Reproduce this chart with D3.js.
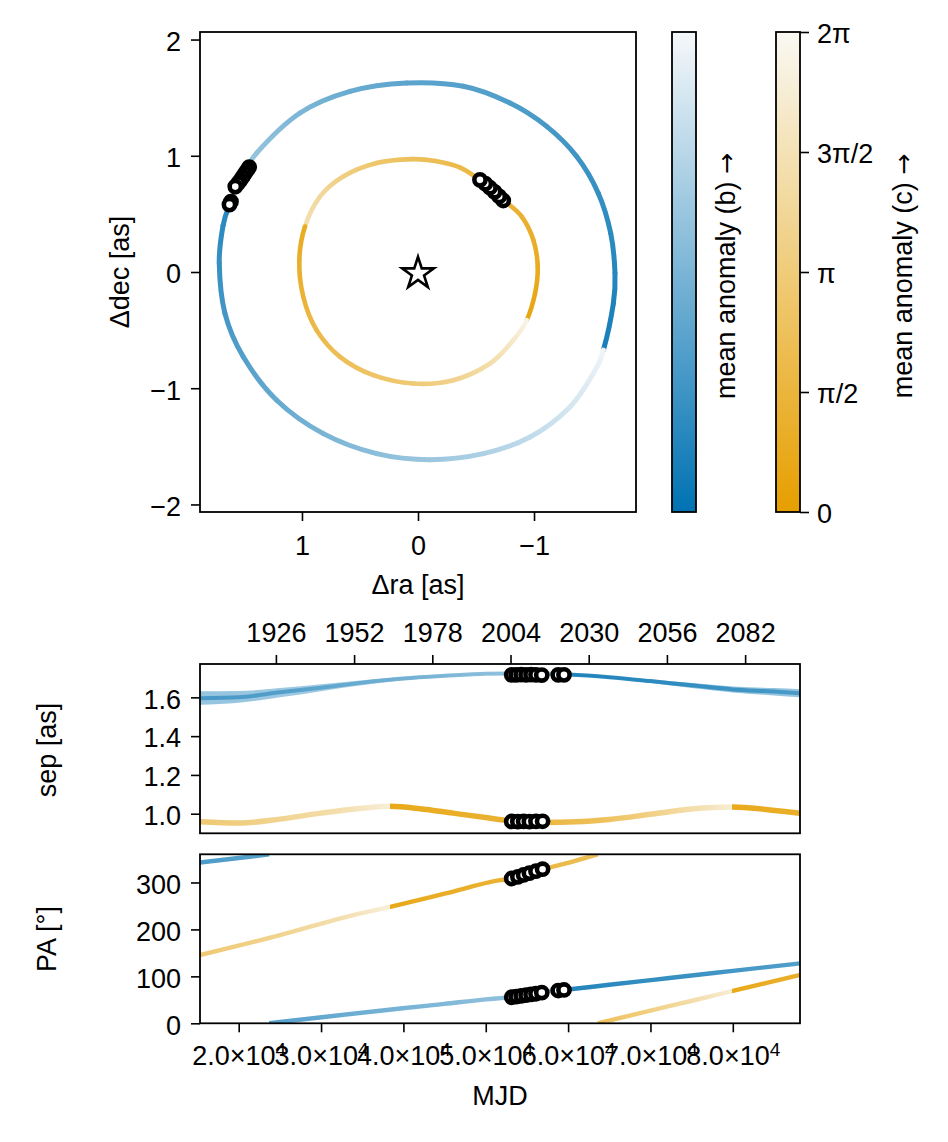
<!DOCTYPE html>
<html>
<head>
<meta charset="utf-8">
<script src="https://cdn.jsdelivr.net/npm/d3@7"></script>
<style>
html,body{margin:0;padding:0;background:#fff;}
svg text{font-family:"Liberation Sans",Helvetica,Arial,sans-serif;fill:#000;}
</style>
</head>
<body>
<svg id="fig" width="948" height="1142" xmlns="http://www.w3.org/2000/svg"></svg>
<script>
// ================= DATA =================
// Sky-plane orbit of planet b, listed along the direction of motion
const orbitB_ra   = [-1.598,-1.684,-1.698,-1.661,-1.554,-1.368,-1.109,-0.793,-0.391,0.097,0.586,1.017,1.391,1.520,1.620,1.680,1.713,1.664,1.506,1.218,0.816,0.356,-0.103,-0.563,-0.966,-1.310,-1.511];
const orbitB_dec  = [-0.672,-0.270,-0.011,0.333,0.678,0.994,1.253,1.454,1.598,1.626,1.554,1.368,1.023,0.800,0.590,0.400,0.075,-0.356,-0.730,-1.103,-1.391,-1.563,-1.615,-1.563,-1.420,-1.161,-0.873];
// mean anomaly (fraction of 2π) leaving / arriving at each point
const orbitB_mOut = [0.02,0.05,0.08,0.11,0.15,0.19,0.23,0.26,0.29,0.32,0.38,0.46,0.56,0.62,0.08,0.11,0.15,0.21,0.28,0.36,0.45,0.53,0.60,0.68,0.76,0.85,0.92];
const orbitB_mIn  = [0.97,0.05,0.08,0.11,0.15,0.19,0.23,0.26,0.29,0.32,0.38,0.46,0.56,0.62,0.66,0.11,0.15,0.21,0.28,0.36,0.45,0.53,0.60,0.68,0.76,0.85,0.92];

// Sky-plane orbit of planet c
const orbitC_ra   = [-0.937,-1.009,-1.032,-0.994,-0.894,-0.736,-0.534,-0.360,-0.150,0.054,0.356,0.644,0.845,0.974,1.023,0.989,0.874,0.672,0.385,0.040,-0.304,-0.621,-0.822];
const orbitC_dec  = [-0.414,-0.184,0.046,0.276,0.477,0.620,0.790,0.900,0.955,0.971,0.937,0.822,0.649,0.391,0.103,-0.213,-0.500,-0.730,-0.888,-0.960,-0.931,-0.787,-0.586];
const orbitC_mOut = [0.02,0.05,0.08,0.11,0.15,0.19,0.22,0.26,0.30,0.34,0.40,0.50,0.62,0.08,0.12,0.18,0.25,0.32,0.38,0.45,0.55,0.68,0.82];
const orbitC_mIn  = [0.95,0.05,0.08,0.11,0.15,0.19,0.22,0.26,0.30,0.34,0.40,0.50,0.62,0.70,0.12,0.18,0.25,0.32,0.38,0.45,0.55,0.68,0.82];

// Observations
const obsB_mjd = [53150,53700,54300,54900,55500,56100,56800,58800,59500];
const obsB_ra  = [1.455,1.470,1.490,1.510,1.530,1.550,1.575,1.612,1.625];
const obsB_dec = [0.903,0.880,0.850,0.820,0.790,0.765,0.735,0.605,0.580];
const obsB_sep = [1.716,1.716,1.717,1.716,1.717,1.716,1.715,1.716,1.716];
const obsB_pa  = [55.5,57,58.5,60,61.5,63,65.5,69.8,71];

const obsC_mjd = [53150,53900,54600,55300,56100,56900];
const obsC_ra  = [-0.735,-0.700,-0.660,-0.620,-0.580,-0.534];
const obsC_dec = [0.615,0.650,0.690,0.725,0.760,0.793];
const obsC_sep = [0.960,0.959,0.960,0.959,0.960,0.961];
const obsC_pa  = [308.5,312,316,320,324,328.3];

// Separation vs time
const sepB_mjd = [15300,20000,25000,30000,35000,40000,45000,50000,55000,60000,65000,70000,75000,80000,85000,88160];
const sepB     = [1.595,1.600,1.626,1.650,1.676,1.697,1.711,1.722,1.724,1.718,1.704,1.684,1.662,1.641,1.630,1.621];
const sepB_lo  = [1.562,1.572,1.600,1.632,1.662,1.688,1.705,1.718,1.721,1.714,1.698,1.674,1.648,1.625,1.610,1.600];
const sepB_hi  = [1.632,1.633,1.648,1.668,1.688,1.705,1.716,1.726,1.727,1.722,1.710,1.692,1.674,1.656,1.648,1.642];

const sepC_mjd = [15300,20000,25000,30000,35000,38400,42000,46000,50000,53000,57000,61000,65000,70000,75000,80000,84000,88160];
const sepC     = [0.959,0.952,0.972,1.003,1.028,1.038,1.026,1.003,0.980,0.963,0.955,0.958,0.970,0.997,1.024,1.034,1.022,1.002];

// Position angle vs time (a value of 360 followed by 0 marks a wrap)
const paB_mjd = [15300,20000,23700,23700,30080,39915,45000,50030,53150,56800,60230,65000,70070,75000,80000,88160];
const paB     = [342.6,352,360,0,13,32,41.5,51,56,66,72.5,82,92,101.7,111.6,127.7];
const paC_mjd = [15300,25015,33100,38400,45000,51730,53150,56920,60000,63600,63600,70000,74800,80000,88160];
const paC     = [145.3,187.8,226.8,248,276,304.9,308.5,328.3,342,360,0,27,47,69,102.8];

// Mean anomaly (fraction of 2π) colour stops along time
const colB_mjd = [15300,25000,35000,45000,53000,59400,59400,65000,75000,88160];
const colB_m   = [0.25,0.30,0.40,0.48,0.55,0.62,0.06,0.10,0.17,0.27];
const colC_mjd = [15300,25000,33000,38400,38400,45000,53000,57000,63600,70000,76000,79900,79900,88160];
const colC_m   = [0.42,0.55,0.70,0.88,0.02,0.08,0.14,0.20,0.30,0.50,0.70,0.86,0.03,0.10];

// Tick values / labels
const ticksRA   = [1,0,-1];
const ticksDEC  = [-2,-1,0,1,2];
const ticksYear = [1926,1952,1978,2004,2030,2056,2082];
const ticksSep  = [1.0,1.2,1.4,1.6];
const ticksPA   = [0,100,200,300];
const ticksMJD  = [20000,30000,40000,50000,60000,70000,80000];
const ticksCb   = [0, Math.PI/2, Math.PI, 3*Math.PI/2, 2*Math.PI];
const ticksCbLabels = ["0","π/2","π","3π/2","2π"];

// ================= DRAWING =================
const FONT = 27;
const FAM = '"Liberation Sans",Helvetica,Arial,sans-serif';
const svg = d3.select('#fig');
const defs = svg.append('defs');

const cmapB = d3.interpolateRgb('#0072b2', '#f6f8fa');
const cmapC = d3.interpolateRgb('#e69f00', '#f9f8f3');
const fmtInt = d3.format('d');

function styleAxis(g, dy) {
  g.attr('font-size', FONT).attr('font-family', FAM);
  g.select('.domain').remove();
  g.selectAll('.tick line').attr('stroke', '#000').attr('stroke-width', 1.6);
  g.selectAll('.tick text').attr('fill', '#000');
  if (dy !== undefined) g.selectAll('.tick text').attr('dy', dy);
}
function frame(x0, y0, x1, y1) {
  svg.append('rect').attr('x', x0).attr('y', y0).attr('width', x1 - x0).attr('height', y1 - y0)
    .attr('fill', 'none').attr('stroke', '#000').attr('stroke-width', 1.8);
}
function clip(id, x0, y0, x1, y1) {
  defs.append('clipPath').attr('id', id).append('rect')
    .attr('x', x0).attr('y', y0).attr('width', x1 - x0).attr('height', y1 - y0);
  return `url(#${id})`;
}
function arrowLabel(x, y, txt) {
  const t = svg.append('text').attr('transform', `translate(${x},${y}) rotate(-90)`)
    .attr('text-anchor', 'middle').attr('font-size', FONT);
  t.append('tspan').text(txt + ' ');
  t.append('tspan').attr('font-family', '"DejaVu Sans",sans-serif').attr('font-size', 25).text('→');
}

// ---------- Panel 1 : sky plane ----------
const P1 = {x0: 200, x1: 636, y0: 32, y1: 512};
const xT = d3.scaleLinear().domain([1.879, -1.879]).range([P1.x0, P1.x1]);
const yT = d3.scaleLinear().domain([-2.065, 2.065]).range([P1.y1, P1.y0]);
const g1 = svg.append('g').attr('clip-path', clip('c1', P1.x0, P1.y0, P1.x1, P1.y1));

let gradCount = 0;
function drawOrbit(ra, dec, mIn, mOut, cmap, width, opacity) {
  const n = ra.length;
  const P = ra.map((r, i) => [xT(r), yT(dec[i])]);
  const g = g1.append('g').attr('opacity', opacity);
  for (let i = 0; i < n; i++) {
    const p0 = P[(i - 1 + n) % n], p1 = P[i], p2 = P[(i + 1) % n], p3 = P[(i + 2) % n];
    const c1 = [p1[0] + (p2[0] - p0[0]) / 6, p1[1] + (p2[1] - p0[1]) / 6];
    const c2 = [p2[0] - (p3[0] - p1[0]) / 6, p2[1] - (p3[1] - p1[1]) / 6];
    const id = 'og' + (gradCount++);
    const lg = defs.append('linearGradient').attr('id', id).attr('gradientUnits', 'userSpaceOnUse')
      .attr('x1', p1[0]).attr('y1', p1[1]).attr('x2', p2[0]).attr('y2', p2[1]);
    lg.append('stop').attr('offset', 0).attr('stop-color', cmap(mOut[i]));
    lg.append('stop').attr('offset', 1).attr('stop-color', cmap(mIn[(i + 1) % n]));
    const p = d3.path();
    p.moveTo(p1[0], p1[1]);
    p.bezierCurveTo(c1[0], c1[1], c2[0], c2[1], p2[0], p2[1]);
    g.append('path').attr('d', p.toString()).attr('fill', 'none')
      .attr('stroke', `url(#${id})`).attr('stroke-width', width).attr('stroke-linecap', 'round');
  }
}
drawOrbit(orbitB_ra, orbitB_dec, orbitB_mIn, orbitB_mOut, cmapB, 5, 0.92);
drawOrbit(orbitC_ra, orbitC_dec, orbitC_mIn, orbitC_mOut, cmapC, 4.6, 0.94);

function obsMarkers(g, pts) {
  g.selectAll(null).data(pts).join('circle')
    .attr('cx', (d) => d[0]).attr('cy', (d) => d[1]).attr('r', 5.6)
    .attr('fill', '#fff').attr('stroke', '#000').attr('stroke-width', 4.6);
}
obsMarkers(svg.append('g'), obsB_ra.map((r, i) => [xT(r), yT(obsB_dec[i])]));
obsMarkers(svg.append('g'), obsC_ra.map((r, i) => [xT(r), yT(obsC_dec[i])]));

// star
svg.append('path').attr('d', d3.symbol(d3.symbolStar, 313)())
  .attr('transform', `translate(${xT(0)},${yT(0) + 1.5})`)
  .attr('fill', '#fff').attr('stroke', '#000').attr('stroke-width', 2.6).attr('stroke-linejoin', 'miter');

frame(P1.x0, P1.y0, P1.x1, P1.y1);
svg.append('g').attr('transform', `translate(0,${P1.y1})`)
  .call(d3.axisBottom(xT).tickValues(ticksRA).tickSize(9).tickPadding(15).tickFormat(fmtInt)).call(styleAxis);
svg.append('g').attr('transform', `translate(${P1.x0},0)`)
  .call(d3.axisLeft(yT).tickValues(ticksDEC).tickSize(9).tickPadding(10).tickFormat(fmtInt))
  .call(g => styleAxis(g, '0.4em'));

svg.append('text').attr('x', (P1.x0 + P1.x1) / 2).attr('y', 594).attr('text-anchor', 'middle')
  .attr('font-size', FONT).text('Δra [as]');
svg.append('text').attr('transform', `translate(129,${(P1.y0 + P1.y1) / 2}) rotate(-90)`)
  .attr('text-anchor', 'middle').attr('font-size', FONT).text('Δdec [as]');

// ---------- Colorbars ----------
function colorbar(x0, cmap, id) {
  const lg = defs.append('linearGradient').attr('id', id).attr('x1', 0).attr('y1', 1).attr('x2', 0).attr('y2', 0);
  d3.range(0, 1.0001, 0.05).forEach(t => lg.append('stop').attr('offset', t).attr('stop-color', cmap(t)));
  svg.append('rect').attr('x', x0).attr('y', P1.y0).attr('width', 24).attr('height', P1.y1 - P1.y0)
    .attr('fill', `url(#${id})`).attr('stroke', '#000').attr('stroke-width', 1.8);
}
colorbar(672, cmapB, 'cbB');
colorbar(776, cmapC, 'cbC');
const yCb = d3.scaleLinear().domain([0, 2 * Math.PI]).range([P1.y1, P1.y0]);
svg.append('g').attr('transform', 'translate(800,0)')
  .call(d3.axisRight(yCb).tickValues(ticksCb).tickSize(9).tickPadding(8)
    .tickFormat((d, i) => ticksCbLabels[i])).call(g => styleAxis(g, '0.4em'));
arrowLabel(735, 276, 'mean anomaly (b)');
arrowLabel(912, 276, 'mean anomaly (c)');

// ---------- Time panels ----------
const P2 = {x0: 200, x1: 800, y0: 664, y1: 833.3};
const P3 = {x0: 200, x1: 800, y0: 854.3, y1: 1023.3};
const xM = d3.scaleLinear().domain([15300, 88160]).range([P2.x0, P2.x1]);
const mjdToYear = m => 1858.8767 + m / 365.25;
const xY = d3.scaleLinear().domain(xM.domain().map(mjdToYear)).range(xM.range());
const ySep = d3.scaleLinear().domain([0.899, 1.772]).range([P2.y1, P2.y0]);
const yPA = d3.scaleLinear().domain([0, 360]).range([P3.y1, P3.y0]);

function hGrad(id, mjds, ms, cmap) {
  const [r0, r1] = xM.range();
  const lg = defs.append('linearGradient').attr('id', id).attr('gradientUnits', 'userSpaceOnUse')
    .attr('x1', r0).attr('x2', r1).attr('y1', 0).attr('y2', 0);
  lg.selectAll('stop').data(mjds.map((d, i) => ({o: (xM(d) - r0) / (r1 - r0), m: ms[i]})))
    .join('stop').attr('offset', d => d.o).attr('stop-color', d => cmap(d.m));
  return `url(#${id})`;
}
const gradB = hGrad('tgB', colB_mjd, colB_m, cmapB);
const gradC = hGrad('tgC', colC_mjd, colC_m, cmapC);

// separation panel
const g2 = svg.append('g').attr('clip-path', clip('c2', P2.x0, P2.y0, P2.x1, P2.y1));
const areaSep = d3.area().curve(d3.curveMonotoneX).x(d => xM(d[0])).y0(d => ySep(d[1])).y1(d => ySep(d[2]));
const lineSep = d3.line().curve(d3.curveMonotoneX).x(d => xM(d[0])).y(d => ySep(d[1]));
g2.append('path').attr('d', areaSep(sepB_mjd.map((m, i) => [m, sepB_lo[i], sepB_hi[i]])))
  .attr('fill', gradB).attr('opacity', 0.55);
g2.append('path').attr('d', lineSep(sepB_mjd.map((m, i) => [m, sepB[i]])))
  .attr('fill', 'none').attr('stroke', gradB).attr('stroke-width', 4).attr('opacity', 0.9);
g2.append('path').attr('d', lineSep(sepC_mjd.map((m, i) => [m, sepC[i]])))
  .attr('fill', 'none').attr('stroke', gradC).attr('stroke-width', 5.5).attr('opacity', 0.92);
obsMarkers(svg.append('g'), obsB_mjd.map((m, i) => [xM(m), ySep(obsB_sep[i])]));
obsMarkers(svg.append('g'), obsC_mjd.map((m, i) => [xM(m), ySep(obsC_sep[i])]));
frame(P2.x0, P2.y0, P2.x1, P2.y1);
svg.append('g').attr('transform', `translate(${P2.x0},0)`)
  .call(d3.axisLeft(ySep).tickValues(ticksSep).tickSize(9).tickPadding(10).tickFormat(d3.format('.1f')))
  .call(g => styleAxis(g, '0.4em'));
svg.append('g').attr('transform', `translate(0,${P2.y0})`)
  .call(d3.axisTop(xY).tickValues(ticksYear).tickSize(9).tickPadding(13).tickFormat(fmtInt))
  .call(styleAxis);
svg.append('text').attr('transform', `translate(56,750) rotate(-90)`).attr('text-anchor', 'middle')
  .attr('font-size', FONT).text('sep [as]');

// PA panel
const g3 = svg.append('g').attr('clip-path', clip('c3', P3.x0, P3.y0, P3.x1, P3.y1));
const linePA = d3.line().curve(d3.curveMonotoneX).x(d => xM(d[0])).y(d => yPA(d[1]));
function wrapSegments(mjd, vals) {
  const segs = [[]];
  mjd.forEach((m, i) => {
    if (i > 0 && vals[i] < vals[i - 1]) segs.push([]);
    segs[segs.length - 1].push([m, vals[i]]);
  });
  return segs;
}
wrapSegments(paB_mjd, paB).forEach(s => g3.append('path').attr('d', linePA(s)).attr('fill', 'none')
  .attr('stroke', gradB).attr('stroke-width', 4.4).attr('opacity', 0.92));
wrapSegments(paC_mjd, paC).forEach(s => g3.append('path').attr('d', linePA(s)).attr('fill', 'none')
  .attr('stroke', gradC).attr('stroke-width', 4.4).attr('opacity', 0.92));
obsMarkers(svg.append('g'), obsB_mjd.map((m, i) => [xM(m), yPA(obsB_pa[i])]));
obsMarkers(svg.append('g'), obsC_mjd.map((m, i) => [xM(m), yPA(obsC_pa[i])]));
frame(P3.x0, P3.y0, P3.x1, P3.y1);
svg.append('g').attr('transform', `translate(${P3.x0},0)`)
  .call(d3.axisLeft(yPA).tickValues(ticksPA).tickSize(9).tickPadding(10))
  .call(g => styleAxis(g, '0.4em'));
const gx3 = svg.append('g').attr('transform', `translate(0,${P3.y1})`)
  .call(d3.axisBottom(xM).tickValues(ticksMJD).tickSize(9).tickPadding(14).tickFormat(() => ''))
  .call(styleAxis);
gx3.selectAll('.tick text').each(function(d) {
  const t = d3.select(this);
  t.append('tspan').text((d / 1e4).toFixed(1) + '×10');
  t.append('tspan').attr('font-size', 19).attr('dy', -9).text('4');
});
svg.append('text').attr('x', (P3.x0 + P3.x1) / 2).attr('y', 1105).attr('text-anchor', 'middle')
  .attr('font-size', FONT).text('MJD');
svg.append('text').attr('transform', `translate(56,939) rotate(-90)`).attr('text-anchor', 'middle')
  .attr('font-size', FONT).text('PA [°]');
</script>
</body>
</html>
